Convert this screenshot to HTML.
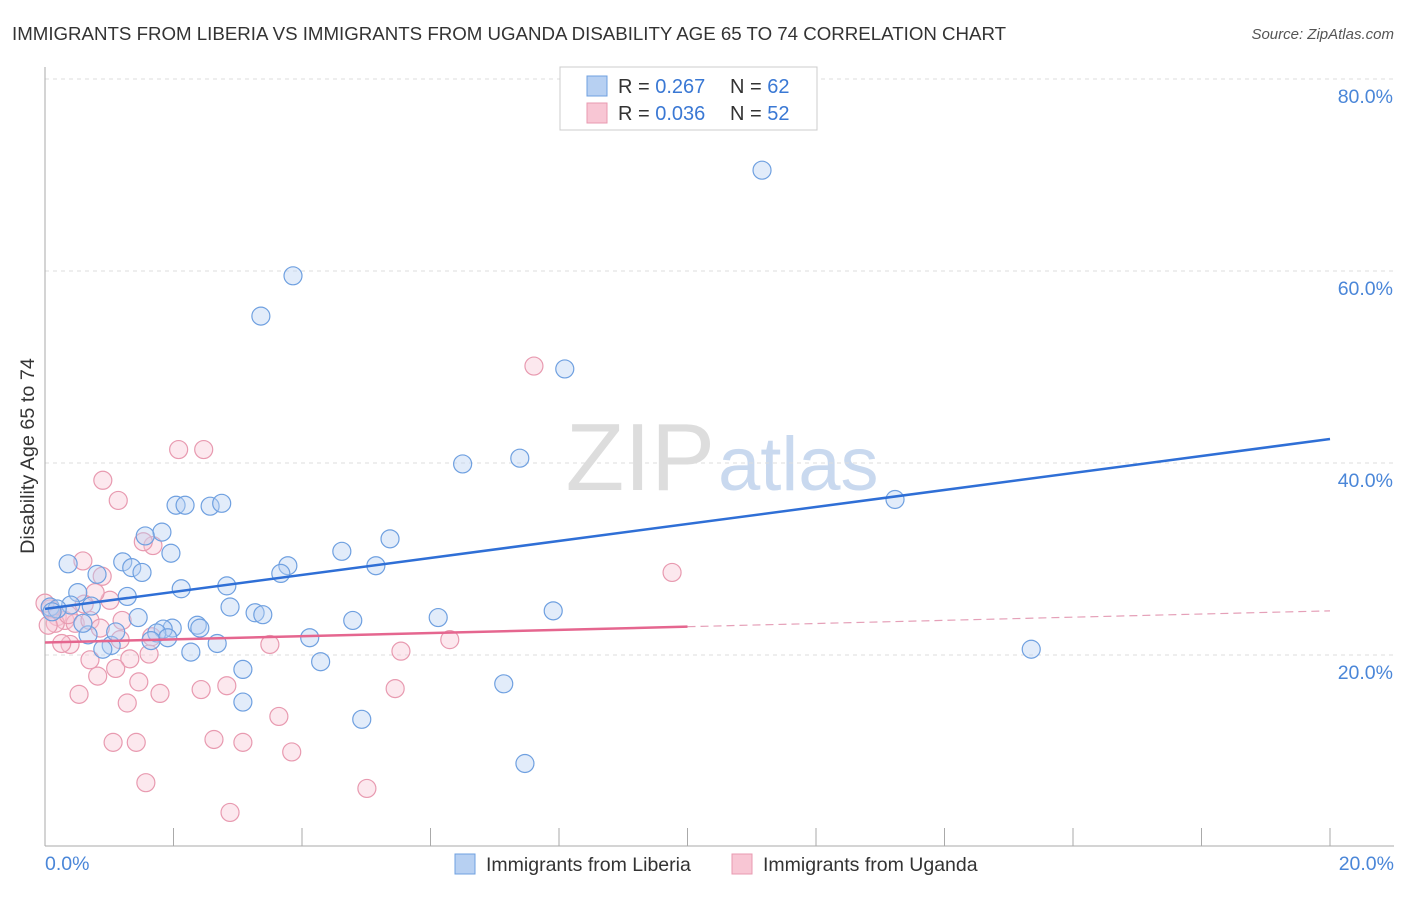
<!DOCTYPE html>
<html><head><meta charset="utf-8">
<style>
body{margin:0;background:#fff;font-family:"Liberation Sans",sans-serif;}
svg text{font-family:"Liberation Sans",sans-serif;}
</style></head>
<body>
<svg id="chart" width="1406" height="892">
<text x="12" y="40" font-size="18.7" fill="#333">IMMIGRANTS FROM LIBERIA VS IMMIGRANTS FROM UGANDA DISABILITY AGE 65 TO 74 CORRELATION CHART</text>
<text x="1394" y="39" font-size="15" fill="#555" font-style="italic" text-anchor="end">Source: ZipAtlas.com</text>
<text x="715" y="490" font-size="96" fill="#ddd" text-anchor="end" font-family="Liberation Serif">ZIP</text>
<text x="718" y="490" font-size="76" fill="#c9d9ef">atlas</text>
<g id="grid"></g>
<g id="pts"></g>
<g id="trend"></g>
<text transform="translate(34,456) rotate(-90)" font-size="19.8" fill="#333" text-anchor="middle">Disability Age 65 to 74</text>
<text x="45" y="870" font-size="19.5" fill="#4a86d8">0.0%</text>
<text x="1394" y="870" font-size="19.5" fill="#4a86d8" text-anchor="end">20.0%</text>
<g>
<rect x="560" y="67" width="257" height="63" fill="#fff" stroke="#ccc"/>
<rect x="587" y="76" width="20" height="20" fill="#b7d0f2" stroke="#6fa0e0"/>
<rect x="587" y="103" width="20" height="20" fill="#f8c6d4" stroke="#e89ab0"/>
<text x="618" y="93" font-size="20" fill="#333">R = <tspan fill="#3a78d4">0.267</tspan></text>
<text x="730" y="93" font-size="20" fill="#333">N = <tspan fill="#3a78d4">62</tspan></text>
<text x="618" y="120" font-size="20" fill="#333">R = <tspan fill="#3a78d4">0.036</tspan></text>
<text x="730" y="120" font-size="20" fill="#333">N = <tspan fill="#3a78d4">52</tspan></text>
</g>
<g>
<rect x="455" y="854" width="20" height="20" fill="#b7d0f2" stroke="#6fa0e0"/>
<text x="486" y="871" font-size="19.5" fill="#333">Immigrants from Liberia</text>
<rect x="732" y="854" width="20" height="20" fill="#f8c6d4" stroke="#e89ab0"/>
<text x="763" y="871" font-size="19.5" fill="#333">Immigrants from Uganda</text>
</g>
</svg>
<script>
const yTicks=[20,40,60,80];
const xTickCount=10;
const blueX=[11.16,3.86,3.36,8.09,6.5,7.39,13.23,2.04,2.18,2.57,2.75,1.82,1.56,1.96,4.62,5.37,0.36,1.21,1.35,1.51,0.81,3.78,3.67,5.15,2.12,2.83,0.51,1.28,0.72,0.4,0.08,0.19,2.88,3.27,3.39,1.45,4.79,6.12,7.91,1.98,1.84,2.37,2.41,0.67,1.74,1.91,1.65,1.03,0.9,2.68,4.12,2.27,4.29,15.35,3.08,7.14,3.08,4.93,7.47,0.11,0.59,1.1];
const blueY=[70.5,59.5,55.3,49.8,39.9,40.5,36.2,35.6,35.6,35.5,35.8,32.8,32.4,30.6,30.8,32.1,29.5,29.7,29.1,28.6,28.4,29.3,28.5,29.3,26.9,27.2,26.5,26.1,25.1,25.2,25.0,24.8,25.0,24.4,24.2,23.9,23.6,23.9,24.6,22.8,22.7,23.1,22.8,22.1,22.3,21.8,21.5,21.0,20.6,21.2,21.8,20.3,19.3,20.6,18.5,17.0,15.1,13.3,8.7,24.5,23.3,22.4];
const pinkX=[7.61,2.08,2.47,0.9,1.14,1.68,1.53,0.59,0.89,1.01,0.78,9.76,0.08,0.19,0.31,0.47,0.7,1.2,1.17,1.66,0.39,0.26,3.5,6.3,5.54,1.62,0.7,1.32,1.1,0.82,1.46,2.83,0.53,1.79,2.43,5.45,1.28,3.64,1.06,1.42,2.63,3.08,3.84,1.57,5.01,2.88,0.16,0.05,0.61,0.36,0,0.86];
const pinkY=[50.1,41.4,41.4,38.2,36.1,31.4,31.8,29.8,28.2,25.7,26.5,28.6,24.8,24.0,23.6,23.3,23.6,23.6,21.6,21.9,21.1,21.2,21.1,21.6,20.4,20.1,19.5,19.6,18.6,17.8,17.2,16.8,15.9,16.0,16.4,16.5,15.0,13.6,10.9,10.9,11.2,10.9,9.9,6.7,6.1,3.6,23.3,23.1,25.3,24.2,25.4,22.8];
const blueTrend=[24.8,42.5];
const pinkTrend=[21.3,24.6];
const NS="http://www.w3.org/2000/svg";
const X0=45,X1=1330,YB=847,PX=9.6;
const sx=v=>X0+(v/20)*(X1-X0);
const sy=v=>YB-v*PX;
function mk(tag,attrs,parent){const e=document.createElementNS(NS,tag);for(const k in attrs)e.setAttribute(k,attrs[k]);parent.appendChild(e);return e;}
const grid=document.getElementById('grid');
yTicks.forEach(t=>{
  const l=mk('line',{x1:X0,x2:1394,y1:sy(t),y2:sy(t),stroke:'#ddd','stroke-dasharray':'4,4'},grid);
  
  
  const tx=mk('text',{x:1393,y:sy(t)+24,'font-size':19.5,fill:'#4a86d8','text-anchor':'end'},grid);
  tx.textContent=t.toFixed(1)+'%';
  
  
});
const ax=mk('line',{x1:X0,x2:X0,y1:67,y2:846,stroke:'#aaa'},grid);


const bx=mk('line',{x1:X0,x2:1394,y1:846,y2:846,stroke:'#aaa'},grid);


for(let i=0;i<=xTickCount;i++){
  const t=mk('line',{x1:sx(i*20/xTickCount),x2:sx(i*20/xTickCount),y1:828,y2:846,stroke:'#aaa'},grid);
  
  
}
const pts=document.getElementById('pts');
function drawPts(xs,ys,fill,stroke,name){
  xs.forEach((x,i)=>{
    const c=mk('circle',{cx:sx(x),cy:sy(ys[i]),r:9,fill:fill,'fill-opacity':0.4,stroke:stroke,'stroke-width':1.2},pts);
    
    
  });
}
drawPts(pinkX,pinkY,'#f8c6d4','#e89ab0','uganda-point');
drawPts(blueX,blueY,'#b7d0f2','#6fa0e0','liberia-point');
const tr=document.getElementById('trend');
const b=mk('line',{x1:sx(0),y1:sy(blueTrend[0]),x2:sx(20),y2:sy(blueTrend[1]),stroke:'#2f6fd6','stroke-width':2.5},tr);


const pm=pinkTrend[0]+(pinkTrend[1]-pinkTrend[0])*0.5;
const p1=mk('line',{x1:sx(0),y1:sy(pinkTrend[0]),x2:sx(10),y2:sy(pm),stroke:'#e5668f','stroke-width':2.5},tr);


const p2=mk('line',{x1:sx(10),y1:sy(pm),x2:sx(20),y2:sy(pinkTrend[1]),stroke:'#e5a0b8','stroke-width':1.2,'stroke-dasharray':'8,5'},tr);


</script>
</body></html>
